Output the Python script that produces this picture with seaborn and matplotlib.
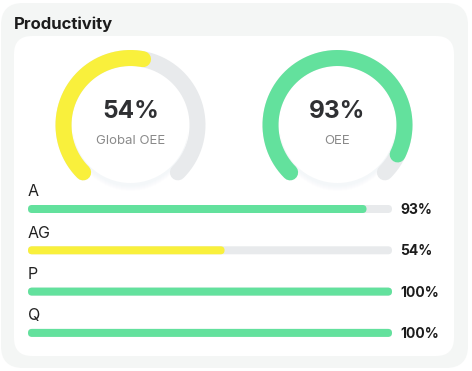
import numpy as np
import pandas as pd
import matplotlib.pyplot as plt
import seaborn as sns
from matplotlib.patches import FancyBboxPatch, Circle

# ---- data ----
title = "Productivity"
gauge_labels = ["Global OEE", "OEE"]
gauge_values = [54, 93]
gauge_colors = ["#f9f03c", "#63e19d"]
metric_names = ["A", "AG", "P", "Q"]
metric_values = [93, 54, 100, 100]
metric_colors = ["#63e19d", "#f9f03c", "#63e19d", "#63e19d"]

TRACK = "#e8eaec"
W, H = 472, 371

sns.set_theme(style="white")
plt.rcParams["font.family"] = ["Inter", "DejaVu Sans"]

fig = plt.figure(figsize=(W / 100, H / 100), dpi=100)
fig.patch.set_facecolor("white")

# background axes in pixel coordinates
bg = fig.add_axes([0, 0, 1, 1])
bg.set_xlim(0, W)
bg.set_ylim(H, 0)
bg.axis("off")

bg.add_patch(FancyBboxPatch((1, 3), 467, 365, boxstyle="round,pad=0,rounding_size=22",
                            fc="#f4f6f5", ec="none"))
bg.add_patch(FancyBboxPatch((14, 36), 440, 320, boxstyle="round,pad=0,rounding_size=18",
                            fc="white", ec="none"))
bg.text(14, 24, title, fontsize=12, fontweight="bold", color="#1c1c1c", va="center", ha="left")

# ---- gauges ----
centers = [130.5, 337.5]
cy = 125
r = 67
lw_px = 16
lw_pt = lw_px * 72 / 100
for cx, val, lab, col in zip(centers, gauge_values, gauge_labels, gauge_colors):
    # soft shadow under the inner disc
    for k in range(6):
        bg.add_patch(Circle((cx, cy + 4 + k), 57, fc="#a0a6ab", ec="none", alpha=0.012, zorder=1))
    bg.add_patch(Circle((cx, cy), 58, fc="white", ec="none", zorder=1.5))
    start, sweep = 225, 270
    t = np.deg2rad(np.linspace(start, start - sweep, 300))
    bg.plot(cx + r * np.cos(t), cy - r * np.sin(t), color=TRACK, lw=lw_pt,
            solid_capstyle="round", zorder=2)
    t = np.deg2rad(np.linspace(start, start - sweep * val / 100, 300))
    bg.plot(cx + r * np.cos(t), cy - r * np.sin(t), color=col, lw=lw_pt,
            solid_capstyle="round", zorder=3)
    bg.text(cx, cy - 14, f"{val}%", fontsize=17.5, fontweight="bold", color="#2f3033",
            ha="center", va="center", zorder=4)
    bg.text(cx, cy + 16, lab, fontsize=9.5, color="#8a8a8a", ha="center", va="center", zorder=4)

# ---- progress bars ----
row0, row_step = 209, 41.3
top_px, bot_px = 180, 350
x0_px, x1_px = 28, 392
n = len(metric_names)
ylim_top = -(row0 - top_px) / row_step
ylim_bot = (n - 1) + (bot_px - (row0 + (n - 1) * row_step)) / row_step
bax = fig.add_axes([x0_px / W, (H - bot_px) / H, (x1_px - x0_px) / W, (bot_px - top_px) / H])
bax.patch.set_alpha(0)

df = pd.DataFrame({"name": metric_names, "value": metric_values, "track": [100] * n})
bar_w = 8 / row_step
sns.barplot(data=df, x="track", y="name", orient="h", color=TRACK, width=bar_w,
            saturation=1, ax=bax)
sns.barplot(data=df, x="value", y="name", hue="name", palette=metric_colors, orient="h",
            width=bar_w, saturation=1, legend=False, ax=bax)
bax.set_xlim(0, 100)
bax.set_ylim(ylim_bot, ylim_top)
bax.axis("off")

# round the bar ends
px_per_x = (x1_px - x0_px) / 100
px_per_y = row_step
rad = 4 / px_per_x
for p in list(bax.patches):
    x, y = p.get_x(), p.get_y()
    w, h = p.get_width(), p.get_height()
    fc = p.get_facecolor()
    p.remove()
    if w <= 0:
        continue
    bax.add_patch(FancyBboxPatch((x, y), w, h, boxstyle=f"round,pad=0,rounding_size={rad}",
                                 mutation_aspect=px_per_x / px_per_y, fc=fc, ec="none"))

for i, (name, val) in enumerate(zip(metric_names, metric_values)):
    yrow = row0 + i * row_step
    bg.text(x0_px, yrow - 17, name, fontsize=11.5, color="#222222", ha="left", va="center")
    bg.text(400, yrow + 1, f"{val}%", fontsize=10, fontweight="bold", color="#1c1c1c",
            ha="left", va="center")

fig.savefig("out.png", dpi=100)
